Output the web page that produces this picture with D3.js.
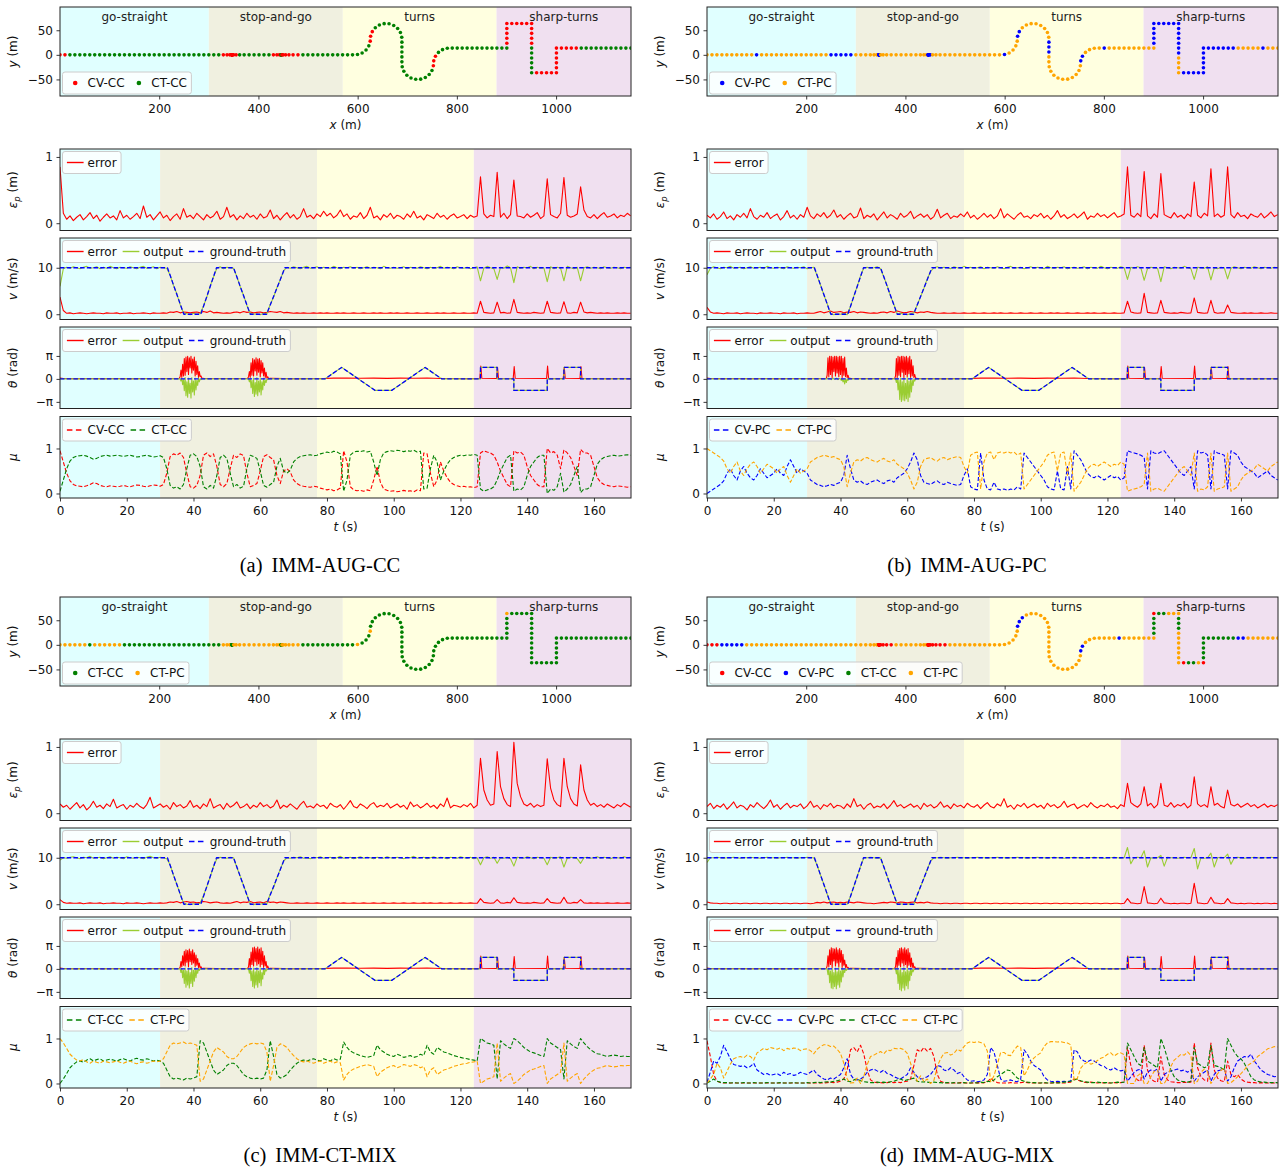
<!DOCTYPE html>
<html>
<head>
<meta charset="utf-8">
<script src="https://cdn.jsdelivr.net/npm/d3@7"></script>
<style>
  body { margin: 0; background: #fff; }
  text { font-family: "DejaVu Sans", sans-serif; }
</style>
</head>
<body>
<svg id="fig" width="1279" height="1169"></svg>
<script>
// ==================== DATA ====================
// scenario sections: in metres (trajectory) and seconds (time series)
const sectionNames = ["go-straight", "stop-and-go", "turns", "sharp-turns"];
const sectionX = [0, 300, 570, 880, 1151];
const sectionT = [0, 30, 77, 124, 171.1];
const sectionColors = ["#e0ffff", "#f0f0e0", "#ffffe0", "#f0e0f0"];

const modelColors = {"CV-CC": "#ff0000", "CV-PC": "#0000ff", "CT-CC": "#008000", "CT-PC": "#ffa500"};

// trajectory, one dot per second (m)
const trajX = [0,10,20,30,40,50,60,70,80,90,100,110,120,130,140,150,160,170,180,190,200,210,220,230,240,250,260,270,280,290,300,
  310,320,329.3,336.7,342.2,345.5,346.7,346.7,346.7,346.7,346.7,346.7,347.4,350.1,355.0,362.1,371.2,381.2,391.2,401.2,411.2,421.2,
  430.2,437.2,442.2,445.2,446.2,446.2,446.2,446.2,446.2,446.2,447.3,450.2,454.9,461.5,469.8,479.7,489.7,499.7,509.7,519.7,529.7,
  539.7,549.7,559.7,569.7,579.7,589.7,599.7,609.0,616.9,622.5,625.3,626.1,629.5,635.6,643.8,653.4,663.3,672.7,680.6,686.2,688.9,
  689.2,689.2,689.2,689.2,689.2,689.8,693.1,699.2,707.5,717.0,727.0,736.4,744.2,749.8,752.6,753.4,756.8,762.9,771.1,780.7,
  790.7,800.7,810.7,820.7,830.7,840.7,850.7,860.7,870.7,880.7,890.7,900.7,900.7,900.7,900.7,900.7,900.7,
  910.7,920.7,930.7,940.7,950.7,950.7,950.7,950.7,950.7,950.7,950.7,950.7,950.7,950.7,950.7,
  960.7,970.7,980.7,990.7,1000.7,1000.7,1000.7,1000.7,1000.7,1000.7,
  1010.7,1020.7,1030.7,1040.7,1050.7,1060.7,1070.7,1080.7,1090.7,1100.7,1110.7,1120.7,1130.7,1140.7,1150.7];
const trajY = [0,0,0,0,0,0,0,0,0,0,0,0,0,0,0,0,0,0,0,0,0,0,0,0,0,0,0,0,0,0,0,0,0,0,0,0,0,0,0,0,
  0,0,0,0,0,0,0,0,0,0,0,0,0,0,0,0,0,0,0,0,0,0,0,0,0,0,0,0,0,0,0,0,0,0,0,0,0,0,0,0,
  0.6,3.9,10.0,18.3,27.8,37.8,47.2,55.0,60.6,63.4,63.1,59.7,53.6,45.4,35.8,
  25.8,15.8,5.8,-4.2,-14.2,
  -24.1,-33.5,-41.4,-47.0,-49.7,-49.4,-46.1,-40.0,-31.7,-22.2,-12.2,-2.8,5.0,10.6,13.4,
  13.7,13.7,13.7,13.7,13.7,13.7,13.7,13.7,13.7,13.7,13.7,13.7,
  23.7,33.7,43.7,53.7,63.7,63.7,63.7,63.7,63.7,63.7,
  53.7,43.7,33.7,23.7,13.7,3.7,-6.3,-16.3,-26.3,-36.3,
  -36.3,-36.3,-36.3,-36.3,-36.3,-26.3,-16.3,-6.3,3.7,13.7,
  13.7,13.7,13.7,13.7,13.7,13.7,13.7,13.7,13.7,13.7,13.7,13.7,13.7,13.7,13.7];

// dominant model per dot: [first second, last second, model]
const dotRunsA = [[0,1,"CV-CC"],[33,45,"CV-CC"],[53,57,"CV-CC"],[63,68,"CV-CC"],[84,86,"CV-CC"],[109,111,"CV-CC"],[127,140,"CV-CC"],[147,160,"CV-CC"]];
const dotRunsB = [[10,10,"CV-PC"],[25,29,"CV-PC"],[37,43,"CV-PC"],[57,64,"CV-PC"],[80,80,"CV-PC"],[85,86,"CV-PC"],[95,97,"CV-PC"],[110,111,"CV-PC"],[116,116,"CV-PC"],[127,142,"CV-PC"],[147,162,"CV-PC"],[168,168,"CV-PC"]];
const dotRunsC = [[0,5,"CT-PC"],[7,12,"CT-PC"],[33,36,"CT-PC"],[44,56,"CT-PC"],[63,68,"CT-PC"],[80,80,"CT-PC"],[84,84,"CT-PC"],[131,131,"CT-PC"]];
const dotRunsD = [[0,2,"CV-CC"],[3,7,"CV-PC"],[37,47,"CV-CC"],[57,68,"CV-CC"],[85,87,"CV-PC"],[110,111,"CV-PC"],[119,119,"CV-PC"],
  [127,130,"CT-CC"],[131,131,"CV-CC"],[132,133,"CT-CC"],[137,139,"CT-CC"],[147,147,"CV-CC"],[148,149,"CT-CC"],[151,151,"CV-CC"],[152,162,"CT-CC"],[163,164,"CV-PC"]];

// ground truth (keypoints): speed in 0.1 m/s, heading in rad
const vGtT = [0, 32.2, 37.1, 42.2, 46.9, 52, 57, 61.9, 67.4, 171.1];
const vGtV = [100, 100, 0, 0, 100, 100, 0, 0, 100, 100];
const thGtT = [0, 79.4, 84.4, 94.4, 99.4, 109.4, 114.4, 126, 126, 131, 131, 136, 136, 146, 146, 151, 151, 156, 156, 171.1];
const thGtV = [0, 0, 1.571, -1.571, -1.571, 1.571, 0, 0, 1.571, 1.571, 0, 0, -1.571, -1.571, 0, 0, 1.571, 1.571, 0, 0];

// position error, one value per second (0.01 m)
const errA = [85,15,6,11,4,9,13,5,10,16,7,12,3,9,14,8,11,5,19,8,
  12,6,10,15,7,26,9,13,5,11,17,8,12,4,10,14,6,22,9,12,
  7,15,10,5,13,8,11,18,6,10,24,9,13,5,11,7,15,9,12,6,
  14,8,10,20,7,12,5,11,16,8,13,6,10,22,9,12,7,14,10,18,
  11,15,8,12,20,10,14,6,11,9,16,7,12,24,8,11,5,13,9,15,
  7,12,10,6,14,9,18,8,11,5,13,10,7,15,9,12,6,11,14,8,
  10,13,7,12,9,11,70,14,8,12,10,77,9,15,7,13,65,11,10,8,
  14,9,12,16,7,11,67,13,10,8,15,69,12,9,11,14,55,20,10,8,
  13,7,12,16,9,11,14,8,12,10,15,11];
const errB = [12,8,14,6,10,17,7,11,5,13,9,15,8,22,10,6,12,9,16,7,
  11,14,5,10,19,8,12,6,13,9,24,11,7,14,10,16,8,12,20,9,
  13,6,11,15,8,10,23,7,12,9,14,5,11,17,8,13,10,6,15,9,
  12,18,7,11,14,9,13,6,10,21,8,12,15,7,11,9,14,10,17,8,
  12,6,10,15,9,13,7,11,22,8,14,10,6,12,16,9,11,7,13,10,
  15,8,12,6,11,19,9,13,7,10,14,8,12,17,6,11,9,15,10,13,
  8,12,16,9,11,14,85,12,9,15,10,78,11,7,14,9,75,13,10,8,
  16,9,12,7,14,10,62,12,8,15,11,82,10,14,9,12,85,13,8,16,
  10,12,7,14,11,9,15,8,12,17,10,13];
const errC = [14,9,12,6,11,16,8,13,5,10,18,9,12,7,14,10,21,8,11,13,
  6,12,9,15,10,7,13,24,8,11,14,9,12,6,16,10,13,8,11,19,
  9,12,7,14,10,22,8,11,13,6,15,9,12,17,8,10,14,7,12,9,
  16,10,13,8,11,20,7,12,9,14,10,6,13,18,9,11,8,14,10,12,
  7,15,11,9,13,6,12,19,10,8,14,11,7,13,16,9,12,10,15,8,
  11,14,9,12,6,17,10,13,8,11,15,9,12,7,14,10,23,8,12,11,
  9,13,10,15,8,12,83,35,20,12,14,93,40,22,13,10,107,45,25,14,
  11,15,9,13,10,12,82,38,20,13,10,83,40,22,14,11,73,35,20,12,
  15,10,13,9,14,11,8,13,10,15,12,9];
const errD = [10,15,7,12,9,14,6,11,17,8,12,10,5,13,9,16,11,7,12,20,
  9,13,6,11,15,8,12,10,14,7,11,18,9,12,6,13,10,15,8,12,
  11,7,14,9,22,10,13,6,12,15,8,11,9,14,7,12,19,10,13,8,
  11,14,9,12,6,15,10,13,8,11,17,9,12,7,14,10,12,8,15,11,
  9,13,7,12,16,10,8,14,11,22,9,12,6,13,10,15,8,11,14,9,
  12,7,15,10,13,8,11,18,9,12,14,7,10,13,9,16,11,8,12,10,
  14,9,11,7,13,10,45,16,12,9,14,40,11,15,8,13,45,12,10,16,
  9,13,11,15,8,12,55,14,10,13,9,40,12,15,10,8,35,13,11,14,
  9,12,15,10,13,8,11,14,9,12,10,13];

// speed output and speed error, one value per second (0.1 m/s)
const vOutA = [60,98,101,99,102,100,98,101,103,99, 100,102,98,101,99,103,100,98,101,100, 99,102,100,98,101,103,99,100,102,98,
  101,100,99,84,62,44,21,3,1,-1, 2,0,1,18,37,61,80,99,102,98, 101,100,99,81,59,41,19,2,0,1, -1,2,1,21,37,57,74,94,101,99,
  102,100,98,101,103,99,100,102,98,101, 100,99,103,100,98,101,100,102,99,101, 98,100,102,99,101,100,98,103,100,99,
  101,99,100,102,98,101,100,99,102,100, 98,101,99,100,103,99,101,100,98,102, 100,99,101,98,100,102,72,99,103,100,
  98,75,101,99,104,100,68,102,99,101, 100,103,98,101,99,100,70,102,98,101, 99,72,103,100,98,101,72,100,102,99,
  101,100,98,102,100,99,101,100,98,101, 100,101];
const vErrA = [37,8,2,3,1,2,3,2,1,2, 3,2,2,1,3,2,2,3,1,2, 2,3,1,2,2,3,2,1,3,2, 2,3,2,5,4,6,3,5,4,3, 4,5,3,6,4,7,3,4,3,2,
  3,2,4,5,3,6,4,5,3,4, 5,3,4,6,5,4,6,3,4,3, 2,3,2,3,2,2,3,2,3,2, 3,2,2,3,2,3,2,2,3,2, 2,3,2,2,3,2,3,2,2,3,
  2,3,2,2,3,2,2,3,2,2, 3,2,2,3,2,3,2,2,3,2, 2,3,2,2,3,2,28,4,3,2, 3,26,3,4,2,3,32,4,3,2, 3,2,4,3,2,3,28,4,3,2,
  3,27,3,2,4,3,26,5,3,4, 3,2,3,2,3,2,2,3,2,3, 2,2];
const vOutB = [85,99,102,100,98,101,100,103,99,100, 101,98,100,102,99,100,101,98,103,100, 99,101,100,98,102,100,99,101,100,102,
  98,100,101,83,63,42,23,2,-1,1, 0,2,-1,17,39,60,82,100,101,99, 100,102,98,80,61,39,21,1,2,0, -1,1,3,20,38,56,76,92,100,102,
  99,101,100,98,102,100,99,103,100,101, 99,100,102,98,101,100,99,102,100,98, 101,103,99,100,101,98,100,102,99,101,
  100,98,103,100,99,101,100,102,98,100, 101,99,100,102,98,101,100,99,103,100, 98,101,100,99,102,100,75,101,99,102,
  100,73,98,101,100,99,70,102,100,98, 101,100,99,103,100,98,75,101,100,99, 102,74,100,98,101,100,76,99,102,100,
  98,101,100,99,102,100,98,101,100,99, 101,100];
const vErrB = [15,5,2,3,2,1,3,2,2,3, 1,2,3,2,2,1,3,2,2,3, 2,2,1,3,2,2,3,1,2,2, 3,2,2,4,6,3,5,7,4,5, 6,3,5,4,6,3,5,4,3,2,
  3,2,4,5,3,6,4,7,5,3, 4,6,5,3,5,4,6,4,3,2, 2,3,2,2,3,2,2,3,2,2, 3,2,2,3,2,2,3,2,3,2, 2,3,2,2,3,2,2,3,2,2,
  3,2,2,3,2,3,2,2,3,2, 2,3,2,2,3,2,3,2,2,3, 2,2,3,2,2,3,28,5,3,2, 3,45,4,3,2,3,30,4,3,2, 3,2,4,3,2,3,35,4,3,2,
  3,30,4,2,3,3,20,4,3,2, 2,3,2,3,2,2,3,2,2,3, 2,2];
const vOutC = [95,100,99,101,102,100,98,101,100,103, 99,100,101,98,100,102,99,101,100,98, 102,100,99,101,100,98,101,103,100,99,
  101,100,98,85,62,43,22,3,0,-1, 1,0,2,19,38,59,81,98,101,100, 99,101,100,79,60,41,20,2,-1,1, 0,2,1,22,36,57,75,93,100,99,
  101,100,102,99,100,98,101,100,102,99, 100,101,98,100,103,99,100,101,98,100, 102,99,101,100,98,101,100,99,102,100,
  99,101,100,98,101,100,103,99,100,101, 98,100,102,99,101,100,98,101,100,99, 102,100,99,101,98,100,85,100,102,99,
  101,88,100,99,101,98,82,101,100,99, 102,100,98,101,100,99,85,101,99,100, 102,80,99,101,100,98,88,100,101,99,
  100,102,99,101,100,98,101,100,99,102, 100,101];
const vErrC = [10,4,2,3,2,2,3,1,2,3, 2,2,3,1,2,2,3,2,2,1, 3,2,2,3,2,1,2,3,2,2, 3,2,3,5,4,6,3,5,6,4, 5,3,4,6,5,3,4,5,3,2,
  3,2,4,6,3,5,4,6,3,4, 5,3,6,4,5,3,5,4,3,2, 2,3,2,2,3,2,2,3,2,2, 3,2,2,3,2,3,2,2,3,2, 2,3,2,2,3,2,2,3,2,2,
  3,2,2,3,2,2,3,2,2,3, 2,3,2,2,3,2,2,3,2,2, 3,2,2,3,2,2,12,4,3,2, 3,10,3,2,4,3,14,4,3,2, 3,2,4,3,2,3,12,4,3,2,
  3,15,3,2,4,3,10,3,2,3, 2,3,2,2,3,2,2,3,2,2, 3,2];
const vOutD = [90,100,100,101,100,99,100,100,101,100, 99,100,100,101,100,100,99,100,101,100, 100,99,100,100,101,100,100,99,100,100,
  101,100,100,84,63,43,22,2,0,0, 1,0,0,17,38,60,81,100,100,101, 100,99,100,80,60,40,20,0,1,0, 0,1,0,20,38,56,75,93,100,100,
  101,100,99,100,100,101,100,100,99,100, 100,101,100,100,99,100,100,101,100,100, 99,100,100,101,100,100,99,100,100,101,
  100,100,99,100,101,100,100,99,100,100, 101,100,100,99,100,100,101,100,100,99, 100,100,101,100,99,100,122,87,100,101,
  100,115,80,100,99,100,105,82,101,100, 100,99,100,101,100,100,120,76,100,99, 100,110,80,100,101,100,108,86,100,101,
  100,99,100,100,101,100,99,100,100,101, 100,100];
const vErrD = [5,3,2,2,1,2,2,1,2,2, 1,2,2,1,2,2,1,2,2,1, 2,2,1,2,2,1,2,2,1,2, 2,1,2,4,3,5,3,4,5,3, 4,3,5,4,3,5,4,3,2,2,
  1,2,3,4,3,5,4,3,5,4, 3,4,5,3,4,3,5,3,2,2, 1,2,2,1,2,2,1,2,2,1, 2,2,1,2,2,1,2,2,1,2, 2,1,2,2,1,2,2,1,2,2,
  1,2,2,1,2,2,1,2,2,1, 2,2,1,2,2,1,2,2,1,2, 2,1,2,2,1,2,12,3,2,1, 2,38,3,2,1,2,13,3,2,1, 2,1,2,2,1,2,45,3,2,1,
  2,15,3,2,1,2,12,3,2,1, 2,1,2,2,1,2,1,2,2,1, 2,1];

// heading error / output outside the stop bursts: [t (s), rad]
const thErrBase = [[0,0.12],[1,0.05],[5,0.04],[9,0.06],[13,0.04],[17,0.05],[21,0.04],[25,0.06],[29,0.05],[33,0.06],[35.75,0.08],
  [43,0.07],[47,0.05],[51,0.06],[55,0.05],[56.25,0.08],
  [63,0.07],[67,0.05],[71,0.04],[75,0.05],[79,0.05],[82,0.1],[86,0.12],[90,0.08],[94,0.11],[98,0.07],[102,0.1],[106,0.08],
  [110,0.12],[114,0.06],[118,0.05],[122,0.04],[125.8,0.05],[126.1,1.75],[126.4,0.08],[130.8,0.05],[131.1,1.6],[131.4,0.08],
  [135.8,0.05],[136.1,1.7],[136.4,0.08],[145.8,0.05],[146.1,1.75],[146.4,0.08],[150.8,0.05],[151.1,1.6],[151.4,0.08],
  [155.8,0.05],[156.1,1.7],[156.4,0.08],[160,0.05],[164,0.04],[168,0.05],[171.1,0.04]];
const thOutBase = [[0,0],[35.75,0],[43,0],[56.25,0],[63,0],[79.4,0],[84.4,1.571],[94.4,-1.571],[99.4,-1.571],[109.4,1.571],[114.4,0],
  [126,0],[126,1.571],[131,1.571],[131,0],[136,0],[136,-1.571],[146,-1.571],[146,0],[151,0],[151,1.571],[156,1.571],[156,0],[171.1,0]];

// heading bursts while the vehicle is stopped, every 0.25 s from 36 s and from 56.5 s (rad)
const burstStart = [36, 56.5];
const burstStep = 0.25;
const thErrBurstA1 = [0.3,1.2,0.2,2.0,0.4,2.8,0.5,3.0,1.0,3.1,0.6,2.9,1.5,3.1,0.8,2.7,1.2,3.0,0.4,2.4,0.6,1.8,0.2,1.0,0.3,0.4,0.1];
const thErrBurstA2 = [0.3,1.0,0.2,2.2,0.5,2.8,0.4,2.6,1.1,2.9,0.5,2.7,0.9,2.8,0.3,2.5,0.8,2.2,0.4,1.5,0.2,0.9,0.1,0.3,0.05];
const thOutBurstA1 = [0,-0.3,0.1,-0.8,-0.1,-1.6,0.2,-2.3,-0.4,-2.5,0.1,-2.0,-0.6,-2.6,0.2,-1.8,-0.3,-2.2,0.1,-1.5,-0.2,-0.9,0.1,-0.4,0,-0.1,0];
const thOutBurstA2 = [0,-0.4,0.1,-1.2,-0.2,-2.0,0.1,-2.4,-0.5,-2.1,0.2,-2.3,-0.3,-1.8,0.1,-2.2,-0.4,-1.5,0.1,-0.9,-0.2,-0.5,0,-0.1,0];
const thErrBurstB1 = [0.5,2.9,0.3,3.1,0.6,3.1,0.2,3.0,1.0,3.1,0.4,3.1,0.8,3.0,0.3,3.1,0.6,3.1,0.2,2.8,0.5,3.0,0.3,1.5,0.2,0.5,0.1];
const thErrBurstB2 = [0.4,2.8,0.2,3.1,0.5,3.0,0.3,3.1,0.9,3.1,0.2,3.0,0.6,3.1,0.3,2.9,0.7,3.1,0.2,2.6,0.4,1.8,0.2,0.6,0.1];
const thOutBurstB1 = [0,0.1,0,0.05,0,-0.1,0,0.1,0,-0.05,0,0.1,0,-0.1,0,0.05,0,-0.2,0,-0.4,-0.1,-0.7,0,-0.5,0,-0.2,0];
const thOutBurstB2 = [0,-0.5,0.1,-1.5,-0.2,-2.8,0.1,-3.1,-0.4,-2.9,0.1,-3.0,-0.6,-2.7,0.2,-3.1,-0.3,-2.5,0.1,-1.8,-0.2,-0.9,0,-0.3,0];
const thErrBurstC1 = [0.2,1.0,0.3,1.8,0.5,2.4,0.4,2.6,0.9,2.5,0.3,2.7,1.0,2.4,0.6,2.6,0.8,2.2,0.3,1.9,0.5,1.4,0.2,0.8,0.1,0.3,0.05];
const thErrBurstC2 = [0.3,1.4,0.2,2.3,0.6,2.9,0.4,3.0,1.0,2.8,0.5,3.0,0.7,2.7,0.3,2.9,0.6,2.4,0.2,1.8,0.4,1.0,0.1,0.4,0.05];
const thOutBurstC1 = [0,-0.5,0.1,-1.2,-0.2,-2.0,0.1,-2.5,-0.3,-2.2,0.1,-2.6,-0.5,-2.0,0.2,-2.4,-0.2,-1.7,0.1,-1.2,-0.1,-0.6,0,-0.2,0,-0.05,0];
const thOutBurstC2 = [0,-0.6,0.1,-1.6,-0.3,-2.4,0.1,-2.6,-0.4,-2.2,0.2,-2.5,-0.3,-1.9,0.1,-2.3,-0.5,-1.4,0.1,-0.8,-0.1,-0.3,0,-0.1,0];
const thErrBurstD1 = [0.4,1.8,0.3,2.6,0.6,2.9,0.2,2.8,1.1,2.7,0.4,2.9,0.8,2.6,0.3,2.8,0.9,2.5,0.2,2.0,0.5,1.2,0.2,0.6,0.1,0.2,0.05];
const thErrBurstD2 = [0.3,1.6,0.2,2.5,0.5,2.8,0.3,2.9,0.8,2.7,0.4,2.9,0.6,2.6,0.2,2.8,0.5,2.2,0.3,1.5,0.2,0.8,0.1,0.3,0.05];
const thOutBurstD1 = [0,-0.8,0.1,-1.9,-0.3,-2.6,0.1,-2.7,-0.5,-2.4,0.1,-2.7,-0.4,-2.2,0.2,-2.5,-0.3,-1.8,0.1,-1.1,-0.1,-0.5,0,-0.2,0,-0.05,0];
const thOutBurstD2 = [0,-0.7,0.1,-2.0,-0.2,-2.8,0.1,-3.0,-0.5,-2.6,0.2,-2.9,-0.4,-2.3,0.1,-2.7,-0.3,-1.6,0.1,-0.9,-0.1,-0.4,0,-0.1,0];

// model probabilities, one value per second (0.01)
const muA_cvcc = [95,70,45,28,20,17,16,15,17,20, 24,22,18,16,15,17,16,15,16,18, 16,15,17,19,18,16,15,17,19,18,
  16,20,45,82,88,85,90,80,45,15, 12,18,40,85,90,82,88,60,20,15, 22,55,85,80,88,84,45,15,18,22, 50,82,86,80,75,40,22,50,55,48,
  30,22,18,16,15,14,16,15,12,10, 8,10,6,8,12,95,70,15,8,6, 7,5,8,6,30,60,25,10,7,5, 6,4,5,7,5,6,4,8,6,90,
  88,45,15,30,70,50,35,25,20,17, 15,16,14,15,13,15,90,95,92,90, 85,70,50,35,20,15,95,90,92,85, 60,40,30,20,15,15,100,90,93,85,
  55,97,90,80,60,40,98,90,90,85, 60,35,25,20,18,16,15,17,16,15, 14,15];
const muA_ctcc = [5,30,55,72,80,83,84,85,83,80, 76,78,82,84,85,83,84,85,84,82, 84,85,83,81,82,84,85,83,81,82,
  84,80,55,18,12,15,10,20,55,85, 88,82,60,15,10,18,12,40,80,85, 78,45,15,20,12,16,55,85,82,78, 50,18,14,20,25,60,78,50,45,52,
  70,78,82,84,85,86,84,85,88,90, 92,90,94,92,88,5,30,85,92,94, 93,95,92,94,70,40,75,90,93,95, 94,96,95,93,95,94,96,92,94,10,
  12,55,85,70,30,50,65,75,80,83, 85,84,86,85,87,85,10,5,8,10, 15,30,50,65,80,85,5,10,8,15, 40,60,70,80,85,85,0,10,7,15,
  45,3,10,20,40,60,2,10,10,15, 40,65,75,80,82,84,85,83,84,85, 86,85];
const muB_cvpc = [0,5,10,15,20,28,45,55,40,30, 50,60,45,35,30,40,55,45,35,40, 45,55,45,40,60,75,60,45,55,50,
  45,30,25,20,18,15,17,20,18,22, 25,40,85,55,30,25,28,22,20,25, 28,30,25,22,28,30,25,35,40,45, 55,70,90,75,40,25,22,20,25,28,
  22,20,25,22,20,18,20,40,55,15, 10,8,90,30,10,8,25,10,8,10, 7,10,8,15,10,90,80,70,60,50, 40,30,15,10,8,50,10,8,60,10,
  95,85,75,60,45,38,35,40,35,30, 35,40,35,38,30,35,95,92,90,88, 85,80,10,95,90,88,92,95,85,75, 65,55,45,40,50,60,10,95,90,92,
  85,10,95,90,88,85,10,95,90,85, 70,60,55,50,45,35,40,45,50,40, 35,30];
const muB_ctpc = [100,95,90,85,80,72,55,45,60,70, 50,40,55,65,70,60,45,55,65,60, 55,45,55,60,40,25,40,55,45,50,
  55,70,75,80,82,85,83,80,82,78, 75,60,15,45,70,75,72,78,80,75, 72,70,75,78,72,70,75,65,60,55, 45,30,10,25,60,75,78,80,75,72,
  78,80,75,78,80,82,80,60,45,85, 90,92,10,70,90,92,75,90,92,90, 93,90,92,85,90,10,20,30,40,50, 60,70,85,90,92,50,90,92,40,90,
  5,15,25,40,55,62,65,60,65,70, 65,60,65,62,70,65,5,8,10,12, 15,20,90,5,10,12,8,5,15,25, 35,45,55,60,50,40,90,5,10,8,
  15,90,5,10,12,15,90,5,10,15, 30,40,45,50,55,65,60,55,50,60, 65,70];
const muC_ctcc = [0,10,22,35,42,48,50,47,52,55, 50,53,55,50,52,54,52,50,53,55, 52,50,54,56,53,52,55,53,50,52,
  50,45,30,15,10,12,10,8,12,10, 12,15,95,90,70,50,30,20,25,30, 40,45,45,40,30,20,15,12,10,12, 10,12,30,95,60,20,12,15,20,30,
  38,45,50,52,50,53,55,52,50,55, 52,50,55,52,54,92,80,72,68,65, 62,60,58,60,62,85,75,70,65,62, 60,65,62,58,60,62,58,60,65,62,
  85,70,65,80,75,70,68,65,62,60, 58,56,55,53,52,50,100,95,90,88, 85,10,95,88,82,78,100,95,88,80, 75,70,68,65,62,60,100,90,85,80,
  75,10,95,88,82,78,100,90,82,75, 70,66,65,62,60,62,63,62,60,61, 60,60];
const muC_ctpc = [100,90,78,65,58,52,50,53,48,45, 50,47,45,50,48,46,48,50,47,45, 48,50,46,44,47,48,45,47,50,48,
  50,55,70,85,90,88,90,92,88,90, 88,85,5,10,30,50,70,80,75,70, 60,55,55,60,70,80,85,88,90,88, 90,88,70,5,40,80,88,85,80,70,
  62,55,50,48,50,47,45,48,50,45, 48,50,45,48,46,8,20,28,32,35, 38,40,42,40,38,15,25,30,35,38, 40,35,38,42,40,38,42,40,35,38,
  15,30,35,20,25,30,32,35,38,40, 42,44,45,47,48,50,0,5,10,12, 15,90,5,12,18,22,0,5,12,20, 25,30,32,35,38,40,0,10,15,20,
  25,90,5,12,18,22,0,10,18,25, 30,34,35,38,40,38,37,38,40,39, 40,40];
const muD_cvcc = [95,60,20,5,2,1,1,1,1,1, 1,1,1,1,1,1,1,1,1,1, 1,1,1,1,1,1,1,1,1,1,
  1,1,1,1,1,1,2,3,2,3, 5,10,30,75,80,70,85,65,30,8, 3,2,2,1,2,3,2,3,2,4, 5,10,40,75,70,80,72,78,60,20,
  5,2,1,1,1,1,2,1,1,1, 1,2,1,2,3,12,5,2,1,1, 1,2,1,1,2,3,2,1,1,1, 1,1,1,1,1,2,1,1,2,3,
  10,8,5,3,2,3,2,1,2,1, 1,1,2,1,2,3,80,40,15,8, 5,85,30,10,5,3,60,20,8,4, 3,2,2,3,2,3,90,35,15,8,
  5,90,30,12,6,4,50,20,15,20, 10,5,3,2,2,1,2,1,1,1, 1,1];
const muD_cvpc = [3,25,50,45,60,85,70,55,42,40, 38,40,35,38,45,30,25,20,22,18, 20,22,18,25,20,22,18,20,25,22,
  20,25,30,20,15,10,8,12,10,15, 20,35,55,20,10,8,10,15,25,30, 32,28,25,30,22,20,15,12,10,15, 20,35,25,15,10,12,15,20,30,40,
  38,30,28,35,30,22,25,15,8,5, 6,4,5,8,20,80,70,40,10,5, 6,8,5,4,10,75,65,50,40,35, 30,15,8,5,4,5,4,5,4,6,
  75,70,55,50,48,52,50,45,40,38, 32,30,35,30,28,30,5,15,25,30, 32,10,25,30,28,32,5,20,25,28, 30,32,28,30,25,30,5,15,20,25,
  30,5,20,28,30,32,5,15,35,50, 55,60,58,65,50,40,30,25,20,18, 15,16];
const muD_ctcc = [1,5,10,5,3,2,2,1,2,1, 1,2,1,1,2,1,1,1,2,1, 1,1,2,1,1,1,2,1,1,1,
  2,1,2,3,2,3,4,3,5,6, 8,10,5,4,8,10,6,4,3,2, 2,3,2,3,2,4,5,8,10,6, 8,10,12,5,3,4,3,2,3,2,
  2,1,2,1,2,1,1,2,1,1, 2,1,3,2,5,4,8,15,20,25, 30,28,20,12,8,5,3,2,2,1, 1,2,1,1,2,1,2,3,4,5,
  8,10,6,4,3,2,2,3,2,2, 2,1,2,3,2,3,90,75,60,45, 40,80,50,45,40,35,100,80,55,30, 15,8,5,4,3,5,80,45,40,35,
  38,85,40,38,35,30,100,85,70,60, 55,45,30,15,8,5,3,3,2,2, 2,2];
const muD_ctpc = [1,10,20,45,35,12,27,43,55,58, 60,57,63,60,52,68,73,78,75,80, 78,76,79,73,78,76,79,78,73,76,
  77,73,66,76,82,86,86,82,83,76, 67,45,10,1,2,12,0,16,42,60, 63,67,71,66,74,73,78,77,78,75, 67,45,23,5,17,4,10,0,7,38,
  55,67,69,63,67,76,72,82,90,93, 91,93,91,88,72,4,17,43,69,69, 63,62,74,83,80,17,30,47,57,63, 68,82,90,93,93,92,93,91,90,86,
  7,12,34,43,47,43,46,51,56,59, 65,68,61,66,68,64,0,0,0,17, 23,0,0,15,27,30,0,0,12,38, 52,58,65,63,70,62,0,5,25,32,
  27,0,10,22,29,34,0,2,8,15, 22,30,40,45,50,60,65,71,77,79, 82,81];

// ==================== LAYOUT ====================
const FONT = "DejaVu Sans, sans-serif";
const TXT = "#111";
const AX_L = 60, AX_R = 631;
const TRAJ_TOP = 7, TRAJ_BOT = 96;
const SUB_TOP = [149, 238, 327, 416.5], SUB_H = 81.5;
const C_ERR = "#ff0000", C_OUT = "#9acd32", C_GT = "#0000ff";

const panels = [
  {ox: 0, oy: 0, tag: "(a)", name: "IMM-AUG-CC", models: ["CV-CC","CT-CC"], base: "CT-CC", runs: dotRunsA,
   mu: [muA_cvcc, muA_ctcc], err: errA, vOut: vOutA, vErr: vErrA,
   thErrB: [thErrBurstA1, thErrBurstA2], thOutB: [thOutBurstA1, thOutBurstA2]},
  {ox: 647, oy: 0, tag: "(b)", name: "IMM-AUG-PC", models: ["CV-PC","CT-PC"], base: "CT-PC", runs: dotRunsB,
   mu: [muB_cvpc, muB_ctpc], err: errB, vOut: vOutB, vErr: vErrB,
   thErrB: [thErrBurstB1, thErrBurstB2], thOutB: [thOutBurstB1, thOutBurstB2]},
  {ox: 0, oy: 590, tag: "(c)", name: "IMM-CT-MIX", models: ["CT-CC","CT-PC"], base: "CT-CC", runs: dotRunsC,
   mu: [muC_ctcc, muC_ctpc], err: errC, vOut: vOutC, vErr: vErrC,
   thErrB: [thErrBurstC1, thErrBurstC2], thOutB: [thOutBurstC1, thOutBurstC2]},
  {ox: 647, oy: 590, tag: "(d)", name: "IMM-AUG-MIX", models: ["CV-CC","CV-PC","CT-CC","CT-PC"], base: "CT-PC", runs: dotRunsD,
   mu: [muD_cvcc, muD_cvpc, muD_ctcc, muD_ctpc], err: errD, vOut: vOutD, vErr: vErrD,
   thErrB: [thErrBurstD1, thErrBurstD2], thOutB: [thOutBurstD1, thOutBurstD2]}
];

const svg = d3.select("#fig");
let clipId = 0;

// ==================== HELPERS ====================
function styleAxis(ax) {
  ax.attr("font-size", 12).attr("font-family", FONT);
  ax.select(".domain").remove();
  ax.selectAll("line").attr("stroke", "#222").attr("stroke-width", 0.9);
  ax.selectAll("text").attr("fill", TXT);
}

function frame(g, top, bot) {
  g.append("rect").attr("x", AX_L).attr("y", top).attr("width", AX_R - AX_L).attr("height", bot - top)
    .attr("fill", "none").attr("stroke", "#222").attr("stroke-width", 1);
}

function clipFor(g, top, bot) {
  const id = "clip" + (clipId++);
  g.append("clipPath").attr("id", id).append("rect")
    .attr("x", AX_L).attr("y", top).attr("width", AX_R - AX_L).attr("height", bot - top);
  return g.append("g").attr("clip-path", `url(#${id})`);
}

function yLabel(g, top, bot, parts) {
  const t = g.append("text").attr("transform", `translate(${AX_L - 43},${(top + bot) / 2}) rotate(-90)`)
    .attr("text-anchor", "middle").attr("font-size", 12).attr("fill", TXT);
  parts.forEach(p => {
    const s = t.append("tspan").text(p.t);
    if (p.i) s.attr("font-style", "italic");
    if (p.sub) s.attr("font-size", 8.5).attr("dy", 3);
    if (p.up) s.attr("dy", -3);
  });
}

function legend(g, x, y, items, fromBottom) {
  const lg = g.append("g");
  const box = lg.append("rect");
  const rowH = 22;
  const cy = fromBottom ? y - rowH / 2 : y + rowH / 2;
  let cx = x + 4.4;
  items.forEach((it, i) => {
    if (i > 0) cx += 6;
    if (it.kind === "dot") {
      lg.append("circle").attr("cx", cx + 8.3).attr("cy", cy).attr("r", 2.3).attr("fill", it.color);
    } else {
      lg.append("line").attr("x1", cx).attr("x2", cx + 16.7).attr("y1", cy).attr("y2", cy)
        .attr("stroke", it.color).attr("stroke-width", 1.4).attr("stroke-dasharray", it.dash ? "5.5,3.5" : null);
    }
    cx += 16.7 + 4;
    const t = lg.append("text").attr("x", cx).attr("y", cy + 4.3).attr("font-size", 12).attr("fill", TXT).text(it.label);
    cx += t.node().getComputedTextLength();
  });
  cx += 4.4;
  box.attr("x", x).attr("y", cy - rowH / 2).attr("width", cx - x).attr("height", rowH).attr("rx", 2.5)
    .attr("fill", "#fff").attr("fill-opacity", 0.8).attr("stroke", "#cccccc").attr("stroke-width", 1);
}

function withBursts(base, bursts) {
  const pts = base.slice();
  bursts.forEach((vals, k) => vals.forEach((v, i) => pts.push([burstStart[k] + i * burstStep, v])));
  return pts.sort((a, b) => a[0] - b[0]);
}

function modelAt(p, i) {
  let m = p.base;
  p.runs.forEach(r => { if (i >= r[0] && i <= r[1]) m = r[2]; });
  return m;
}

// ==================== DRAW ====================
function drawPanel(p) {
  const g = svg.append("g").attr("transform", `translate(${p.ox},${p.oy})`);

  // ---- trajectory ----
  const xs = d3.scaleLinear().domain([0, 1151]).range([AX_L, AX_R]);
  const ys = d3.scaleLinear().domain([-83.7, 97.3]).range([TRAJ_BOT, TRAJ_TOP]);
  g.selectAll(null).data(sectionNames).join("rect")
    .attr("x", (d, i) => xs(sectionX[i])).attr("width", (d, i) => xs(sectionX[i + 1]) - xs(sectionX[i]))
    .attr("y", TRAJ_TOP).attr("height", TRAJ_BOT - TRAJ_TOP).attr("fill", (d, i) => sectionColors[i]);
  g.selectAll(null).data(sectionNames).join("text")
    .attr("x", (d, i) => (xs(sectionX[i]) + xs(sectionX[i + 1])) / 2).attr("y", TRAJ_TOP + 14)
    .attr("text-anchor", "middle").attr("font-size", 12).attr("fill", "#222").text(d => d);

  const dots = trajX.map((x, i) => ({x, y: trajY[i], m: modelAt(p, i)}));
  const dg = clipFor(g, TRAJ_TOP, TRAJ_BOT);
  dg.selectAll("circle").data(dots).join("circle")
    .attr("cx", d => xs(d.x)).attr("cy", d => ys(d.y)).attr("r", 1.8).attr("fill", d => modelColors[d.m]);

  styleAxis(g.append("g").attr("transform", `translate(${AX_L},0)`)
    .call(d3.axisLeft(ys).tickValues([-50, 0, 50]).tickFormat(d3.format("d")).tickSize(3.5).tickPadding(3.5)));
  styleAxis(g.append("g").attr("transform", `translate(0,${TRAJ_BOT})`)
    .call(d3.axisBottom(xs).tickValues([200, 400, 600, 800, 1000]).tickFormat(d3.format("d")).tickSize(3.5).tickPadding(4.5)));
  frame(g, TRAJ_TOP, TRAJ_BOT);
  legend(g, AX_L + 2.5, TRAJ_BOT - 2, p.models.map(m => ({label: m, kind: "dot", color: modelColors[m]})), true);
  yLabel(g, TRAJ_TOP, TRAJ_BOT, [{t: "y", i: true}, {t: " (m)"}]);
  const xl = g.append("text").attr("x", (AX_L + AX_R) / 2).attr("y", 129).attr("text-anchor", "middle")
    .attr("font-size", 12).attr("fill", TXT);
  xl.append("tspan").attr("font-style", "italic").text("x");
  xl.append("tspan").text(" (m)");

  // ---- time series ----
  const ts = d3.scaleLinear().domain([0, 171.1]).range([AX_L, AX_R]);
  const subs = [
    {dom: [-11, 112], ticks: [0, 100], fmt: d => d / 100, label: [{t: "ε", i: true}, {t: "p", i: true, sub: true}, {t: " (m)", up: true}]},
    {dom: [-11.3, 164], ticks: [0, 100], fmt: d => d / 10, label: [{t: "v", i: true}, {t: " (m/s)"}]},
    {dom: [-4.05, 7.1], ticks: [-Math.PI, 0, Math.PI], fmt: d => d > 0 ? "π" : d < 0 ? "−π" : "0", label: [{t: "θ", i: true}, {t: " (rad)"}]},
    {dom: [-10, 171], ticks: [0, 100], fmt: d => d / 100, label: [{t: "μ", i: true}]}
  ];

  subs.forEach((s, k) => {
    const top = SUB_TOP[k], bot = top + SUB_H;
    const yk = d3.scaleLinear().domain(s.dom).range([bot, top]);
    s.y = yk;
    g.selectAll(null).data(sectionNames).join("rect")
      .attr("x", (d, i) => ts(sectionT[i])).attr("width", (d, i) => ts(sectionT[i + 1]) - ts(sectionT[i]))
      .attr("y", top).attr("height", SUB_H).attr("fill", (d, i) => sectionColors[i]);
    s.g = clipFor(g, top, bot);
    s.top = top; s.bot = bot;
  });

  const lineIdx = y => d3.line().x((d, i) => ts(i)).y(d => y(d));
  const linePair = y => d3.line().x(d => ts(d[0])).y(d => y(d[1]));
  const linePts = (y, tt) => d3.line().x((d, i) => ts(tt[i])).y(d => y(d));
  const path = (grp, d, color, w, dash) => grp.append("path").attr("d", d).attr("fill", "none")
    .attr("stroke", color).attr("stroke-width", w).attr("stroke-dasharray", dash || null).attr("stroke-linejoin", "round");

  // position error
  path(subs[0].g, lineIdx(subs[0].y)(p.err), C_ERR, 1.1);
  // speed
  path(subs[1].g, lineIdx(subs[1].y)(p.vErr), C_ERR, 1.1);
  path(subs[1].g, lineIdx(subs[1].y)(p.vOut), C_OUT, 1.1);
  path(subs[1].g, linePts(subs[1].y, vGtT)(vGtV), C_GT, 1.3, "4.5,2.2");
  // heading
  path(subs[2].g, linePair(subs[2].y)(withBursts(thErrBase, p.thErrB)), C_ERR, 1.1);
  path(subs[2].g, linePair(subs[2].y)(withBursts(thOutBase, p.thOutB)), C_OUT, 1.1);
  path(subs[2].g, linePts(subs[2].y, thGtT)(thGtV), C_GT, 1.3, "4.5,2.2");
  // model probabilities
  p.mu.forEach((arr, j) => path(subs[3].g, lineIdx(subs[3].y)(arr), modelColors[p.models[j]], 1.1, "4,2"));

  subs.forEach(s => {
    styleAxis(g.append("g").attr("transform", `translate(${AX_L},0)`)
      .call(d3.axisLeft(s.y).tickValues(s.ticks).tickFormat(s.fmt).tickSize(3.5).tickPadding(3.5)));
    frame(g, s.top, s.bot);
    yLabel(g, s.top, s.bot, s.label);
  });

  styleAxis(g.append("g").attr("transform", `translate(0,${subs[3].bot})`)
    .call(d3.axisBottom(ts).tickValues(d3.range(0, 161, 20)).tickFormat(d3.format("d")).tickSize(3.5).tickPadding(4.5)));
  const tl = g.append("text").attr("x", (AX_L + AX_R) / 2).attr("y", 531).attr("text-anchor", "middle")
    .attr("font-size", 12).attr("fill", TXT);
  tl.append("tspan").attr("font-style", "italic").text("t");
  tl.append("tspan").text(" (s)");

  // legends
  const lx = AX_L + 2.5;
  legend(g, lx, subs[0].top + 2.5, [{label: "error", color: C_ERR}], false);
  [1, 2].forEach(k => legend(g, lx, subs[k].top + 2.5, [
    {label: "error", color: C_ERR}, {label: "output", color: C_OUT}, {label: "ground-truth", color: C_GT, dash: true}], false));
  legend(g, lx, subs[3].top + 2.5, p.models.map(m => ({label: m, color: modelColors[m], dash: true})), false);

  // caption
  const cap = g.append("text").attr("x", 320).attr("y", 572).attr("text-anchor", "middle")
    .attr("font-family", "Liberation Serif, Times New Roman, serif").attr("font-size", 20.5).attr("fill", "#000");
  cap.append("tspan").attr("font-family", "Liberation Serif, serif").text(p.tag);
  cap.append("tspan").attr("font-family", "Liberation Serif, serif").attr("dx", 9).text(p.name);
}

panels.forEach(drawPanel);
</script>
</body>
</html>
